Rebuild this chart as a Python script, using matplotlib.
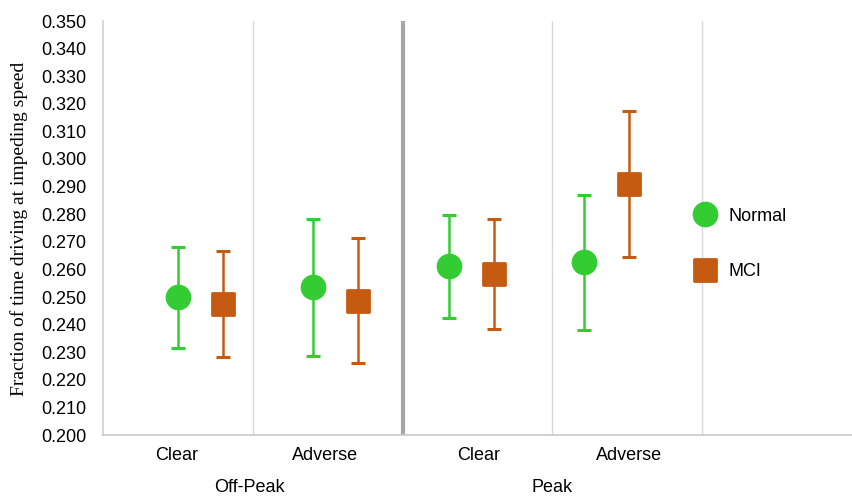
import matplotlib
matplotlib.use("Agg")
import matplotlib.pyplot as plt
import matplotlib.transforms as mtransforms
from matplotlib.lines import Line2D
from matplotlib.markers import MarkerStyle

# data
normal_x = [0.50, 1.40, 2.31, 3.21]
normal_mean = [0.2499, 0.2536, 0.2612, 0.2628]
normal_lo = [0.2315, 0.2287, 0.2424, 0.2382]
normal_hi = [0.2680, 0.2783, 0.2797, 0.2871]

mci_x = [0.80, 1.70, 2.61, 3.51]
mci_mean = [0.2475, 0.2487, 0.2585, 0.2909]
mci_lo = [0.2283, 0.2261, 0.2384, 0.2644]
mci_hi = [0.2667, 0.2715, 0.2784, 0.3175]

cond_labels = ["Clear", "Adverse", "Clear", "Adverse"]
cond_x = [0.49, 1.48, 2.51, 3.51]
group_labels = ["Off-Peak", "Peak"]
group_x = [0.975, 3.0]

GREEN = "#33CC33"
ORANGE = "#C55A11"

plt.rcParams["font.family"] = ["Liberation Sans", "DejaVu Sans"]

fig = plt.figure(figsize=(8.52, 4.97), dpi=100)
ax = fig.add_axes([103 / 852, 1 - 435 / 497, 749 / 852, 414 / 497])

round_square = MarkerStyle("s", joinstyle="round")

def draw_series(xs, mean, lo, hi, color, marker, size, label):
    yerr = [[m - l for m, l in zip(mean, lo)], [h - m for m, h in zip(mean, hi)]]
    ax.errorbar(xs, mean, yerr=yerr, fmt="none", ecolor=color, elinewidth=1.8,
                capsize=4.8, capthick=2.2, zorder=3)
    ax.plot(xs, mean, linestyle="none", marker=marker, markersize=size,
            color=color, markeredgecolor=color, markeredgewidth=2.0, zorder=4, label=label)

draw_series(normal_x, normal_mean, normal_lo, normal_hi, GREEN, "o", 16.5, "Normal")
draw_series(mci_x, mci_mean, mci_lo, mci_hi, ORANGE, round_square, 16.5, "MCI")

# category separators
for xv in [1, 3, 4]:
    ax.axvline(xv, color="#d9d9d9", linewidth=1.0, zorder=1)
ax.axvline(2, color="#a6a6a6", linewidth=3.0, zorder=1)

ax.set_xlim(0, 5)
ax.set_ylim(0.200, 0.350)
ax.set_yticks([0.200 + 0.01 * i for i in range(16)])
ax.yaxis.set_major_formatter(plt.FuncFormatter(lambda v, _: f"{v:.3f}"))
ax.tick_params(axis="y", length=0, labelsize=13, pad=12)

ax.set_xticks(cond_x)
ax.set_xticklabels(cond_labels)
ax.tick_params(axis="x", length=0, labelsize=13, pad=9)

trans = mtransforms.blended_transform_factory(ax.transData, fig.transFigure)
for gx, gl in zip(group_x, group_labels):
    ax.text(gx, 1 - 488 / 497, gl, transform=trans, ha="center", va="center", fontsize=13)

for side in ["top", "right"]:
    ax.spines[side].set_visible(False)
ax.spines["left"].set_color("#d0d0d0")
ax.spines["bottom"].set_color("#c8c8c8")
ax.spines["left"].set_linewidth(1.2)
ax.spines["bottom"].set_linewidth(1.2)

ax.set_ylabel("Fraction of time driving at impeding speed", family="Liberation Serif",
              fontsize=14)
ax.yaxis.set_label_coords(-75 / 749, (435 - 229) / 414)

handles = [
    Line2D([], [], linestyle="none", marker="o", markersize=16.5, markeredgewidth=2.0, color=GREEN),
    Line2D([], [], linestyle="none", marker=round_square, markersize=16.5, markeredgewidth=2.0,
           color=ORANGE),
]
ax.legend(handles, ["Normal", "MCI"], loc="center left",
          bbox_to_anchor=(682 / 852, 1 - 244 / 497), bbox_transform=fig.transFigure,
          frameon=False, fontsize=13, labelspacing=2.15, handlelength=1.5,
          handletextpad=0.55, borderpad=0)

fig.savefig("out.png", dpi=100)
